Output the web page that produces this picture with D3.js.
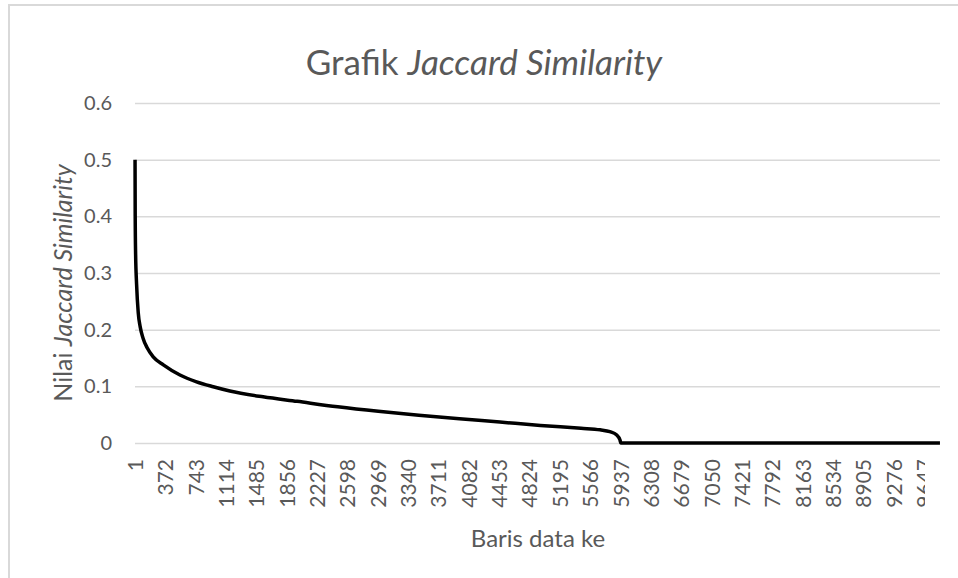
<!DOCTYPE html>
<html>
<head>
<meta charset="utf-8">
<script src="https://cdn.jsdelivr.net/npm/d3@7"></script>
<style>
  body { margin: 0; background: #fff; }
  text { font-family: Lato, "Open Sans", sans-serif; fill: #595959; }
  .grid line { stroke: #d9d9d9; stroke-width: 1.5; }
  .grid path { display: none; }
  .xaxis path, .yaxis path { display: none; }
</style>
</head>
<body>
<script>
// data: row number -> jaccard value (rows sorted descending)
var totalRows = 9840;
var rows   = [1, 3, 8, 20, 40, 64, 99, 149, 223, 347, 550, 753, 957, 1160, 1566, 1983, 2479, 2974, 3470, 3966, 4461, 4957, 5453, 5686, 5805, 5889, 5929, 5938, 9840];
var values = [0.5, 0.40, 0.333, 0.28, 0.23, 0.205, 0.185, 0.168, 0.152, 0.138, 0.12, 0.108, 0.0993, 0.0918, 0.0815, 0.0735, 0.064, 0.056, 0.049, 0.0428, 0.037, 0.031, 0.026, 0.0232, 0.020, 0.0141, 0.0053, 0, 0];

// tick labels
var xTicks = [1, 372, 743, 1114, 1485, 1856, 2227, 2598, 2969, 3340, 3711, 4082, 4453, 4824, 5195, 5566, 5937, 6308, 6679, 7050, 7421, 7792, 8163, 8534, 8905, 9276, 9647];
var yTicks = [0, 0.1, 0.2, 0.3, 0.4, 0.5, 0.6];

// set the dimensions
var W = 958, H = 578;
var plot = {left: 135, right: 940, top: 103, bottom: 443};

var svg = d3.select("body").append("svg")
    .attr("width", W)
    .attr("height", H);

// chart border (cropped on right / bottom)
svg.append("rect")
    .attr("x", 9).attr("y", 5)
    .attr("width", W + 10).attr("height", H + 10)
    .attr("fill", "none")
    .attr("stroke", "#d9d9d9")
    .attr("stroke-width", 2);

// scales
var x = d3.scaleLinear().domain([0.5, totalRows + 0.5]).range([plot.left, plot.right]);
var y = d3.scaleLinear().domain([0, 0.6]).range([plot.bottom, plot.top]);

// gridlines
svg.append("g")
    .attr("class", "grid")
    .attr("transform", "translate(" + plot.left + ",0)")
    .call(d3.axisLeft(y).tickValues(yTicks).tickSize(-(plot.right - plot.left)).tickFormat(""));

// y axis labels
svg.append("g")
    .attr("class", "yaxis")
    .attr("transform", "translate(" + plot.left + ",0)")
    .call(d3.axisLeft(y).tickValues(yTicks).tickSize(0).tickPadding(23).tickFormat(function(d) { return d === 0 ? "0" : d3.format(".1f")(d); }))
    .selectAll("text")
    .style("font-size", "20px");

// x axis labels, clipped at the right like the original
svg.append("clipPath").attr("id", "xclip")
    .append("rect").attr("x", 0).attr("y", plot.bottom).attr("width", 925).attr("height", 80);

var xg = svg.append("g")
    .attr("clip-path", "url(#xclip)")
    .append("g")
    .attr("class", "xaxis")
    .attr("transform", "translate(0," + plot.bottom + ")")
    .call(d3.axisBottom(x).tickValues(xTicks).tickSize(0).tickFormat(d3.format("d")));

xg.selectAll("text")
    .attr("transform", "rotate(-90)")
    .attr("x", -16)
    .attr("y", 0)
    .attr("dy", "0.35em")
    .style("text-anchor", "end")
    .style("font-size", "21px");

// the line
var valueline = d3.line()
    .x(function(d) { return x(d[0]); })
    .y(function(d) { return y(d[1]); })
    .curve(d3.curveMonotoneX);

svg.append("path")
    .datum(d3.zip(rows, values))
    .attr("fill", "none")
    .attr("stroke", "#000")
    .attr("stroke-width", 3.5)
    .attr("stroke-linejoin", "round")
    .attr("d", valueline);

// title
var title = svg.append("text")
    .attr("x", 484)
    .attr("y", 75)
    .attr("text-anchor", "middle")
    .style("font-size", "35px");
title.append("tspan").text("Grafik ");
title.append("tspan").style("font-style", "italic").text("Jaccard Similarity");

// x axis title
svg.append("text")
    .attr("x", 538)
    .attr("y", 547)
    .attr("text-anchor", "middle")
    .style("font-size", "24px")
    .text("Baris data ke");

// y axis title
var ytitle = svg.append("text")
    .attr("transform", "translate(72,283) rotate(-90)")
    .attr("text-anchor", "middle")
    .style("font-size", "25px");
ytitle.append("tspan").text("Nilai ");
ytitle.append("tspan").style("font-style", "italic").text("Jaccard Similarity");
</script>
</body>
</html>
